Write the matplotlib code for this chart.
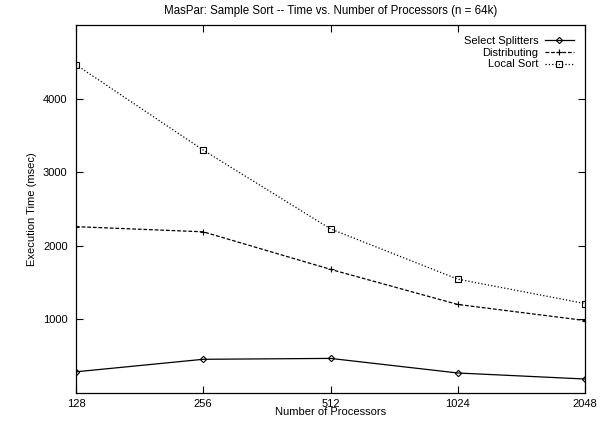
import numpy as np
import matplotlib as mpl
mpl.use('Agg')
import matplotlib.pyplot as plt

mpl.rcParams.update({'font.family': ['Liberation Sans', 'DejaVu Sans']})
mpl.rcParams.update({'font.size': 8})

procs = [128, 256, 512, 1024, 2048]
select_splitters = [288, 458, 470, 272, 190]
distributing = [2260, 2190, 1680, 1203, 985]
local_sort = [4460, 3300, 2230, 1547, 1215]

fig = plt.figure(figsize=(6.06, 4.26), dpi=100)
ax = fig.add_axes([76/606, 1-393/426, (585-76)/606, (393-25)/426])

x = np.log2(procs)
ax.plot(x, select_splitters, '-', color='k', lw=0.9, marker='D', ms=3.2,
        mfc='none', mew=0.8, label='Select Splitters')
ax.plot(x, distributing, '--', color='k', lw=0.9, dashes=(3, 1.5), marker='+',
        ms=5, mew=0.8, label='Distributing')
ax.plot(x, local_sort, ':', color='k', lw=0.9, marker='s', ms=4,
        mfc='none', mew=0.8, label='Local Sort')

ax.set_xlim(x[0], x[-1])
ax.set_ylim(0, 5000)
ax.set_xticks(x)
ax.set_xticklabels([str(p) for p in procs])
ax.set_yticks([1000, 2000, 3000, 4000])
ax.tick_params(direction='in', top=True, right=True, length=5, width=0.8, pad=6)
ax.tick_params(axis='x', pad=4)
for s in ax.spines.values():
    s.set_linewidth(0.9)

ax.set_xlabel('Number of Processors', labelpad=-1)
ax.set_ylabel('Execution Time (msec)', labelpad=4)
ax.set_title('MasPar: Sample Sort -- Time vs. Number of Processors (n = 64k)',
             fontsize=8.3, pad=8)

leg = ax.legend(loc='upper right', frameon=False, markerfirst=False,
                handlelength=2.6, handletextpad=0.6, labelspacing=0.15,
                borderaxespad=0.6, fontsize=8)
for t in leg.get_texts():
    t.set_ha('right')
leg._legend_box.align = 'right'

fig.savefig('out.png', dpi=100)
